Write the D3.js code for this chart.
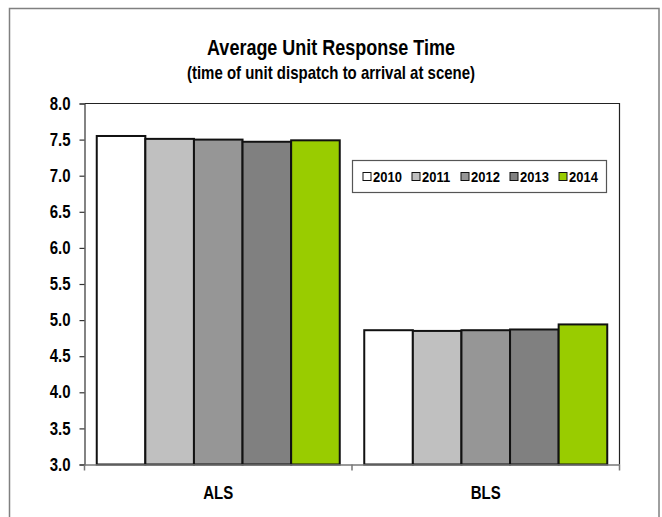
<!DOCTYPE html>
<html><head><meta charset="utf-8">
<script src="https://cdn.jsdelivr.net/npm/d3@7"></script>
<style>
body{margin:0;background:#fff;}
text{font-family:"Liberation Sans",Arial,sans-serif;font-weight:bold;fill:#000;}
</style></head><body>
<svg id="chart" width="662" height="517"></svg>
<script>
const categories = ["ALS", "BLS"];
const years = ["2010", "2011", "2012", "2013", "2014"];
const values = {
  "2010": [7.55, 4.86],
  "2011": [7.51, 4.85],
  "2012": [7.50, 4.86],
  "2013": [7.47, 4.87],
  "2014": [7.49, 4.94]
};
const yTicks = [3.0, 3.5, 4.0, 4.5, 5.0, 5.5, 6.0, 6.5, 7.0, 7.5, 8.0];
const colors = ["#ffffff", "#c0c0c0", "#969696", "#808080", "#99cc00"];
const title1 = "Average Unit Response Time";
const title2 = "(time of unit dispatch to arrival at scene)";

const svg = d3.select("#chart");
const L = 84.5, R = 619.5, T = 103.5, B = 464.5;
const VS = 1.18; // vertical stretch of glyphs

// outer border
svg.append("rect").attr("x", 9.5).attr("y", 8.5).attr("width", 649.5).attr("height", 530)
  .attr("fill", "none").attr("stroke", "#808080").attr("stroke-width", 1.5);

const y = d3.scaleLinear().domain([3, 8]).range([B, T]);
const x0 = d3.scaleBand().domain(categories).range([L, R]).padding(0);
const gap = 12.25;
const x1 = d3.scaleBand().domain(years).range([gap, x0.bandwidth() - gap]).padding(0);

// plot border (top/right)
svg.append("path").attr("d", `M${L},${T}H${R}V${B}`).attr("fill", "none")
  .attr("stroke", "#222").attr("stroke-width", 1.2);

// bars
const groups = svg.append("g").selectAll("g").data(categories).join("g")
  .attr("transform", d => `translate(${x0(d)},0)`);
groups.each(function(cat, ci) {
  d3.select(this).selectAll("rect").data(years).join("rect")
    .attr("x", yr => x1(yr))
    .attr("width", x1.bandwidth())
    .attr("y", yr => y(values[yr][ci]))
    .attr("height", yr => B - y(values[yr][ci]))
    .attr("fill", (yr, i) => colors[i])
    .attr("stroke", "#111").attr("stroke-width", 2);
});

// y axis
const yAxis = d3.axisLeft(y).tickValues(yTicks).tickFormat(d3.format(".1f")).tickSize(5).tickPadding(9);
const ga = svg.append("g").attr("transform", `translate(${L},0)`).call(yAxis);
ga.select(".domain").attr("stroke", "#333").attr("stroke-width", 1.2);
ga.selectAll(".tick line").attr("stroke", "#333").attr("stroke-width", 1.2);
ga.selectAll(".tick text").style("font-size", "15px").attr("transform", `scale(1,${VS})`);

// x axis
const xAxis = d3.axisBottom(x0).tickSize(0).tickPadding(0);
const gx = svg.append("g").attr("transform", `translate(0,${B})`).call(xAxis);
gx.select(".domain").attr("stroke", "#777").attr("stroke-width", 1.5);
gx.selectAll(".tick text").style("font-size", "15px").attr("dy", null).attr("y", 0)
  .attr("transform", `translate(0,34) scale(1,${VS})`);
// category boundary ticks
const bounds = [L, x0("BLS"), R];
svg.append("g").selectAll("line").data(bounds).join("line")
  .attr("x1", d => d).attr("x2", d => d).attr("y1", B).attr("y2", B + 6)
  .attr("stroke", "#777").attr("stroke-width", 1.5);

// title
svg.append("text").attr("text-anchor", "middle").attr("transform", `translate(331,55) scale(1,${VS})`)
  .style("font-size", "18px").text(title1);
svg.append("text").attr("text-anchor", "middle").attr("transform", `translate(331,79) scale(1,${VS})`)
  .style("font-size", "15px").text(title2);

// legend
const lg = svg.append("g");
lg.append("rect").attr("x", 352.5).attr("y", 160.5).attr("width", 254).attr("height", 32)
  .attr("fill", "#fff").attr("stroke", "#555").attr("stroke-width", 1.2);
const items = lg.selectAll("g").data(years).join("g")
  .attr("transform", (d, i) => `translate(${363 + i * 49},176.5)`);
items.append("rect").attr("x", 0).attr("y", -4).attr("width", 8).attr("height", 8)
  .attr("fill", (d, i) => colors[i]).attr("stroke", "#111").attr("stroke-width", 1);
items.append("text").attr("transform", `translate(10,5.5) scale(1,${VS})`).style("font-size", "13px").text(d => d);
</script>
</body></html>
